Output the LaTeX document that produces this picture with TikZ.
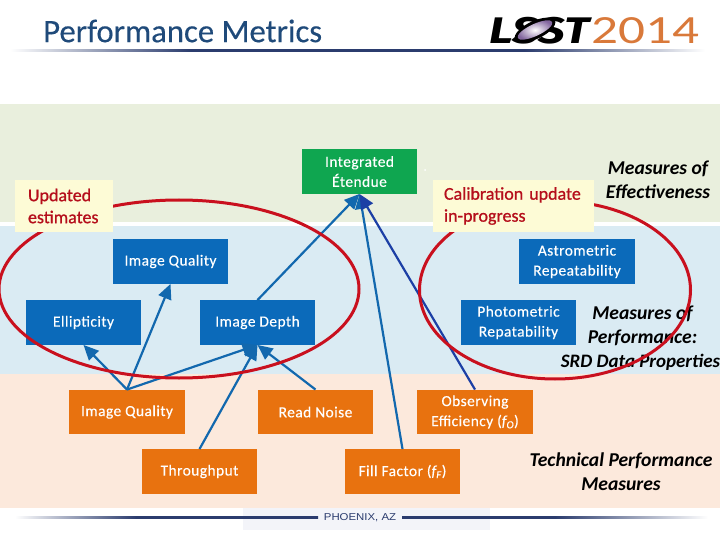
\documentclass[tikz,border=0pt]{standalone}
\usepackage{fontspec}
\setmainfont{Carlito}
\newfontfamily\heavyf{Fira Sans}
\newfontfamily\footf{Liberation Sans}
\usetikzlibrary{arrows.meta,shadings}
\definecolor{bandg}{HTML}{E9EFDD}
\definecolor{bandb}{HTML}{DAEBF3}
\definecolor{bando}{HTML}{FCE9DC}
\definecolor{boxb}{HTML}{0B6ABA}
\definecolor{boxo}{HTML}{E8720F}
\definecolor{boxg}{HTML}{0FA650}
\definecolor{arrowb}{HTML}{1268AE}
\definecolor{arrowd}{HTML}{1C3FA5}
\definecolor{redring}{HTML}{C9101E}
\definecolor{yel}{HTML}{FDFBD6}
\definecolor{titlec}{HTML}{1F4A7A}
\definecolor{logoo}{HTML}{D9793A}
\definecolor{skyl}{HTML}{F3F4F9}
\definecolor{navy}{HTML}{2B3C6E}
\pgfdeclarehorizontalshading{rulefade}{100bp}{color(0bp)=(white);color(25bp)=(white);color(38bp)=(navy);color(62bp)=(navy);color(75bp)=(white);color(100bp)=(white)}
\pgfdeclarehorizontalshading{fadein}{100bp}{color(0bp)=(white);color(25bp)=(white);color(45bp)=(navy);color(100bp)=(navy)}
\pgfdeclarehorizontalshading{fadeout}{100bp}{color(0bp)=(navy);color(50bp)=(navy);color(75bp)=(white);color(100bp)=(white)}
\tikzset{
 x=1pt,y=-1pt,
 metric/.style={minimum width=115.5pt,minimum height=44.5pt,inner sep=0pt,align=center,text=white,font=\fontsize{15.4}{20}\selectfont\addfontfeature{LetterSpace=3,FakeBold=0.3},execute at begin node={\vspace*{4.5pt}}},
 bluebox/.style={metric,fill=boxb},
 orangebox/.style={metric,fill=boxo},
 greenbox/.style={metric,fill=boxg},
 link/.style={draw=arrowb,line width=2.2pt,-{Triangle[length=15pt,width=13.5pt]}},
 darklink/.style={link,draw=arrowd},
 ring/.style={draw=redring,line width=3pt},
 note/.style={fill=yel,text=redring!90!black,inner sep=0pt,align=left,font=\fontsize{18}{22}\selectfont\addfontfeature{FakeBold=0.8}},
 measure/.style={align=center,text=black,font=\fontsize{19.6}{24}\selectfont\bfseries\itshape},
}
\begin{document}
\begin{tikzpicture}
\useasboundingbox (0,0) rectangle (720,540);
\fill[white] (0,0) rectangle (720,540);
% bands
\fill[bandg] (0,104) rectangle (720,222.5);
\fill[bandb] (0,226) rectangle (720,374);
\fill[bando] (0,374) rectangle (720,508);
\fill[white] (425,170) circle (1pt);
% title
\node[anchor=west,inner sep=0pt,text=titlec,font=\fontsize{32.7}{36}\selectfont\addfontfeature{FakeBold=0.3}] (title) at (43,31) {Performance Metrics};
\shade[shading=rulefade] (10,50) rectangle (705,51.4);
% logo
\node[anchor=west,inner sep=0pt,text=black,font=\heavyf\fontsize{37}{37}\selectfont\bfseries\itshape,xscale=1.28] (lsst) at (489,31) {LSST};
\begin{scope}[rotate around={25:(535,30)}]
\fill[black] (535,30) ellipse [x radius=22,y radius=9];
\shade[inner color=white,outer color=navy!60!violet!70!white] (535,30) ellipse [x radius=19,y radius=6];
\end{scope}
\node[anchor=west,inner sep=0pt,text=logoo,font=\fontsize{40}{40}\selectfont,xscale=1.33] (yr) at (591,31) {2014};
% footer
\fill[skyl] (243,508) rectangle (490,530);
\shade[shading=fadein] (15,516.6) rectangle (318,518.6);
\shade[shading=fadeout] (402,516.6) rectangle (708,518.6);
\node[inner sep=0pt,text=navy,font=\footf\fontsize{10}{10}\selectfont,xscale=1.14] (foot) at (360,518) {PHOENIX, AZ};
% boxes
\node[greenbox] (int) at (359.5,171.5) {Integrated\\Étendue};
\node[bluebox] (iqt) at (170.5,261.5) {Image Quality};
\node[bluebox] (ell) at (83.5,322.5) {Ellipticity};
\node[bluebox] (dep) at (257.5,322.5) {Image Depth};
\node[bluebox] (ast) at (577,261.5) {Astrometric\\Repeatability};
\node[bluebox] (pho) at (518.5,322.5) {Photometric\\Repatability};
\node[orangebox] (iqo) at (127,412) {Image Quality};
\node[orangebox] (rn) at (315.5,412) {Read Noise};
\node[orangebox] (obs) at (475,412) {Observing\\Efficiency (\textit{f\textsubscript{O}})};
\node[orangebox] (thr) at (199.5,471.5) {Throughput};
\node[orangebox] (ff) at (402.5,471.5) {Fill Factor (\textit{f\textsubscript{F}})};
% labels
\node[measure] (m1) at (658,180) {Measures of\\Effectiveness};
\node[measure] (m2) at (640.5,338) {\hspace*{4pt}Measures of\\\hspace*{4pt}Performance:\\\fontsize{19}{24}\selectfont SRD Data Properties};
\node[measure] (m3) at (621,472) {Technical Performance\\Measures};
% connectors
\draw[link] (iqo.north) -- (ell.south);
\draw[link] (iqo.north) -- (iqt.south);
\draw[link] (iqo.north) -- (dep.south);
\draw[link] (thr.north) -- (dep.south);
\draw[link] (rn.north) -- (dep.south);
\draw[link] (dep.north) -- (int.south);
\draw[link] (ff.north) -- (int.south);
\draw[darklink] (obs.north) -- (int.south);
% rings
\coordinate (c1) at (179,289);
\coordinate (c2) at (555,290);
\draw[ring] (c1) ellipse [x radius=180,y radius=89];
\draw[ring] (c2) ellipse [x radius=135.5,y radius=89];
% notes
\node[note,minimum width=98pt,minimum height=52pt,text width=72pt,inner xsep=13pt] (n1) at (64,206) {Updated\\estimates};
\node[note,minimum width=161pt,minimum height=52pt,text width=139pt,inner xsep=11pt] (n2) at (513.5,206) {Calibration update\\in-progress};
\end{tikzpicture}
\end{document}
